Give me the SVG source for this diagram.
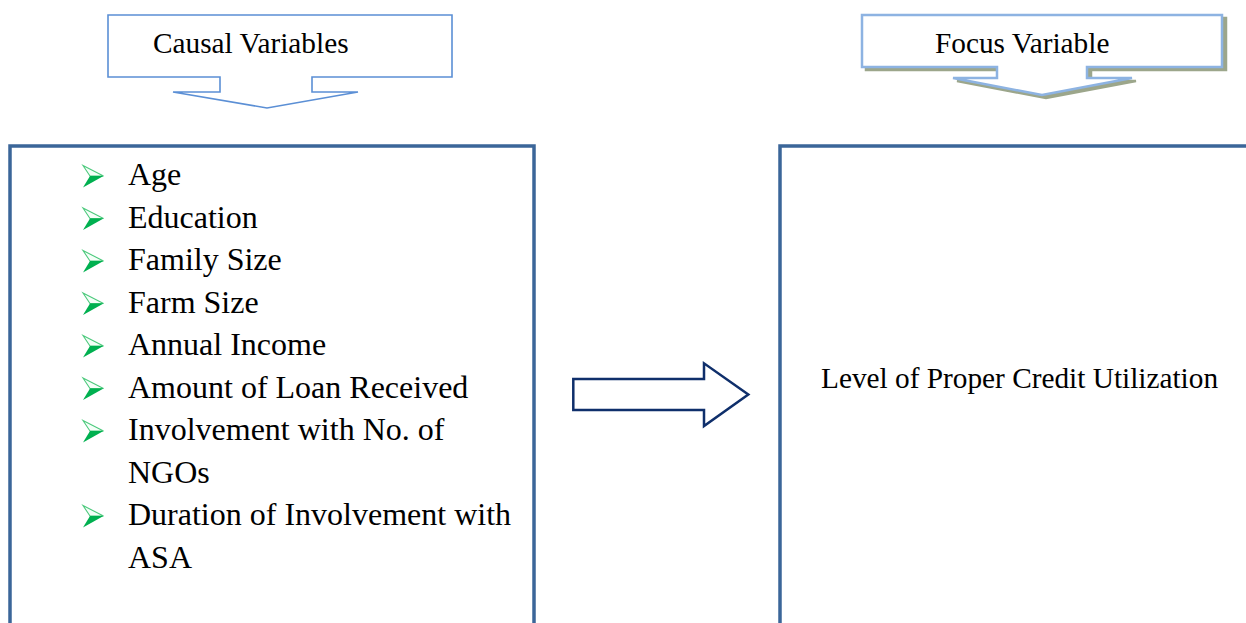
<svg xmlns="http://www.w3.org/2000/svg" width="1246" height="623" viewBox="0 0 1246 623">
<defs>
<style>
text{font-family:'Liberation Serif','Times New Roman','DejaVu Serif',serif;fill:#000}
.li{font-size:32px}
.hd{font-size:29.3px}
.box{fill:#fff;stroke:#3b6699;stroke-width:3.5}
.b1{fill:#f4fff8;stroke:#4cc97c;stroke-width:1.1;stroke-linejoin:miter}
.b2{fill:#00b050}
</style>
<g id="bul">
<path class="b1" d="M0,-19.5 L20.5,-9 L7,-9 Z"/>
<path class="b2" d="M7,-9 L20.5,-9 L0,2.5 Z"/>
</g>
</defs>
<rect width="1246" height="623" fill="#fff"/>

<g id="causal-callout" font-family="Liberation Serif, serif">
<path d="M108,15 H452 V77 H312 V92 H358 L267,108 L173,92 H220 V77 H108 Z" fill="#fff" stroke="#5b8fd5" stroke-width="1.6"/>
<text class="hd" x="153" y="53">Causal Variables</text>
</g>

<g id="focus-callout" font-family="Liberation Serif, serif">
<path d="M862,15 H1222 V67 H1087 V78 H1132 L1042,95 L953,78 H997 V67 H862 Z" fill="#9ca68b" stroke="#9ca68b" stroke-width="2.5" transform="translate(4,3)"/>
<path d="M862,15 H1222 V67 H1087 V78 H1132 L1042,95 L953,78 H997 V67 H862 Z" fill="#fff" stroke="#8db3e2" stroke-width="2.5"/>
<text class="hd" x="935" y="53">Focus Variable</text>
</g>

<g id="causal-box" font-family="Liberation Serif, serif">
<rect class="box" x="10" y="146" width="524" height="500"/>
<use href="#bul" x="83" y="185"/>
<use href="#bul" x="83" y="227.5"/>
<use href="#bul" x="83" y="270"/>
<use href="#bul" x="83" y="312.5"/>
<use href="#bul" x="83" y="355"/>
<use href="#bul" x="83" y="397.5"/>
<use href="#bul" x="83" y="440"/>
<use href="#bul" x="83" y="525"/>
<text class="li" x="128" y="185">Age</text>
<text class="li" x="128" y="227.5">Education</text>
<text class="li" x="128" y="270">Family Size</text>
<text class="li" x="128" y="312.5">Farm Size</text>
<text class="li" x="128" y="355">Annual Income</text>
<text class="li" x="128" y="397.5">Amount of Loan Received</text>
<text class="li" x="128" y="440">Involvement with No. of</text>
<text class="li" x="128" y="482.5">NGOs</text>
<text class="li" x="128" y="525">Duration of Involvement with</text>
<text class="li" x="128" y="567.5">ASA</text>
</g>

<g id="focus-box" font-family="Liberation Serif, serif">
<rect class="box" x="780" y="146" width="520" height="500"/>
<text class="hd" x="821" y="388">Level of Proper Credit Utilization</text>
</g>

<g id="connectors">
<path d="M573.3,379 H704 V363.3 L748.3,394.5 L704,426 V410 H573.3 Z" fill="#fff" stroke="#0f2f6b" stroke-width="2.5"/>
</g>
</svg>
